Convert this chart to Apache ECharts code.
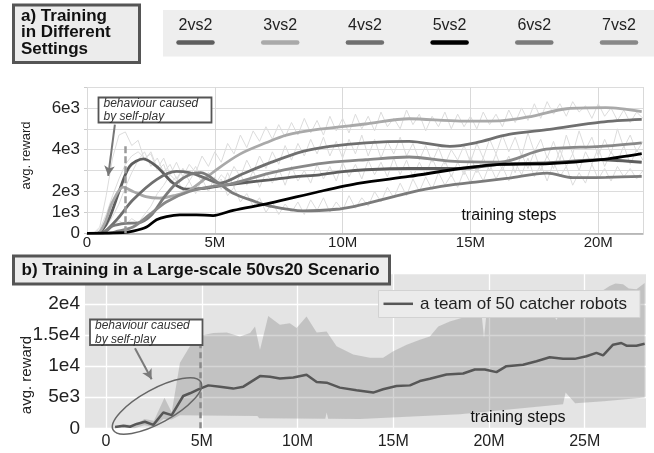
<!DOCTYPE html>
<html><head><meta charset="utf-8">
<script src="https://cdn.jsdelivr.net/npm/echarts@6/dist/echarts.min.js"></script>
<style>html,body{margin:0;padding:0;background:#fff}#c{width:654px;height:453px}</style>
</head><body><div id="c"></div>
<script>
const FONT = '"Liberation Sans", Arial, sans-serif';

// ---- top panel (a) ----
const legendNames = ['2vs2','3vs2','4vs2','5vs2','6vs2','7vs2'];
const lineColors = ['#5e5e5e','#a9a9a9','#6f6f6f','#000000','#7b7b7b','#888888'];
const topXTicks = [0,5,10,15,20];
const topXLabels = ['0','5M','10M','15M','20M'];
const topYTicks = [0,1000,2000,4000,6000];
const topYLabels = ['0','1e3','2e3','4e3','6e3'];

const s2vs2 = [[0,0],[0.4,0],[0.6,150],[0.9,800],[1.28,2080],[1.67,3200],[2.2,3560],[2.72,3200],[3.37,2400],[3.89,2110],[4.6,2150],[5.2,2270],[6.2,2430],[7.15,2560],[8.1,2700],[9.1,2800],[10.0,2950],[10.9,3040],[12.6,3100],[14.6,3100],[16.15,3300],[18.1,3380],[20.1,3520],[21.7,3400]];
const s3vs2 = [[0,0],[0.4,0],[0.7,500],[1.0,1500],[1.41,2210],[1.8,2000],[2.3,1750],[2.84,1680],[3.4,1800],[4.0,2050],[5.07,3050],[6.0,3800],[7.0,4330],[7.8,4700],[9.1,4980],[10.9,5230],[12.6,5480],[14.6,5370],[16.15,5380],[17.45,5610],[18.76,5960],[20.3,6010],[21.7,5820]];
const s4vs2 = [[0,0],[0.5,0],[0.7,80],[1.2,700],[1.8,1600],[2.72,2570],[3.5,2960],[4.0,2900],[4.5,2700],[5.2,2400],[6.1,2850],[7.15,3370],[8.45,3920],[9.5,4160],[10.9,4330],[12.6,4400],[14.2,4160],[15.2,4330],[16.5,4730],[18.1,4970],[20.1,5320],[21.7,5450]];
const s5vs2 = [[0,0],[1.41,30],[1.8,100],[2.33,300],[2.72,650],[3.11,800],[3.63,880],[4.28,880],[4.93,850],[5.72,1100],[7.15,1440],[9.1,2000],[10.67,2400],[12.6,2720],[14.6,3100],[16.15,3300],[18.1,3330],[20.1,3520],[21.7,3810]];
const s6vs2 = [[0,0],[0.6,0],[1.0,350],[1.5,480],[2.0,500],[2.5,850],[3.0,1700],[3.5,2400],[4.0,2800],[4.45,2900],[5.2,2350],[5.72,1920],[6.5,1550],[7.15,1300],[8.45,1070],[9.76,1150],[10.5,1300],[11.0,1440],[12.0,1750],[13.0,2050],[14.2,2300],[15.2,2450],[16.5,2640],[18.0,2880],[19.0,2660],[20.3,2680],[21.7,2720]];
const s7vs2 = [[0,0],[0.8,0],[1.2,100],[1.8,300],[2.46,900],[3.1,1500],[4.0,2000],[4.93,2250],[5.6,2350],[7.15,2880],[8.45,3200],[9.5,3390],[10.9,3520],[12.6,3650],[14.2,3450],[16.15,3400],[17.85,4000],[20.1,4160],[21.7,4330]];

const rawSteps = [0,0.25,0.5,0.75,1,1.25,1.5,1.75,2,2.25,2.5,2.75,3,3.25,3.5,3.75,4,4.25,4.5,4.75,5,5.25,5.5,5.75,6,6.25,6.5,6.75,7,7.25,7.5,7.75,8,8.25,8.5,8.75,9,9.25,9.5,9.75,10,10.25,10.5,10.75,11,11.25,11.5,11.75,12,12.25,12.5,12.75,13,13.25,13.5,13.75,14,14.25,14.5,14.75,15,15.25,15.5,15.75,16,16.25,16.5,16.75,17,17.25,17.5,17.75,18,18.25,18.5,18.75,19,19.25,19.5,19.75,20,20.25,20.5,20.75,21,21.25,21.5,21.75];
const raw3vs2 = [0,0,300,1800,3600,4700,4850,4200, 4450,3500,3900,3100,3600,2800,3400,2700, 3300,2900,3700,3200,3900,3400,4300,3800, 4700,4100,4900,4400,5100,4500,5200,4600, 5300,4700,5500,4800,5400,4700,5600,4900, 5500,4800,5700,5000,5600,4900,5800,5100, 5500,5000,5900,5200,5700,4900,5600,5100, 5800,5000,5700,5100,5600,5000,5800,5200, 5700,5100,5900,5300,6000,5400,6200,5500, 6300,5700,6200,5600,6300,5800,6100,5500, 6200,5600,6000,5400,5900,5300,5800,5500];
const raw2vs2 = [0,0,200,900,1800,2600,3300,3700, 3900,3600,3800,3000,3300,2400,2700,2000, 2500,1900,2600,2000,2700,2100,2900,2200, 2800,2300,3000,2200,2900,2400,3100,2300, 3200,2500,3000,2400,3300,2600,3200,2500, 3400,2700,3300,2600,3500,2800,3400,2700, 3600,2800,3500,2700,3400,2800,3600,2900, 3500,2700,3400,2800,3700,2900,3600,3000, 3800,3000,3700,2900,3800,3100,3900,3000, 3700,3100,4000,3200,3800,3000,3900,3300, 4100,3200,3900,3400,4200,3300,4000,3500];
const raw4vs2 = [0,0,100,300,800,1400,2200,2900, 3500,3900,3200,3600,2900,3300,2600,3100, 2500,3000,2400,2900,2300,2800,2500,3200, 2700,3500,2900,3700,3100,3900,3300,4200, 3500,4300,3700,4500,3800,4600,3700,4400, 3600,4500,3800,4700,3700,4500,3600,4400, 3800,4600,3700,4300,3500,4200,3400,4100, 3300,4000,3500,4200,3400,4300,3600,4500, 3800,4700,3900,4600,3700,4800,3900,4500, 3600,4400,3500,4700,3800,4900,4000,4600, 3700,4500,3800,5000,4100,4700,3900,4400];
const raw6vs2 = [0,0,0,100,400,600,400,700, 500,900,1300,1900,2300,2800,2500,3100, 2700,3200,2600,2900,2200,2600,1800,2200, 1500,1900,1300,1700,1000,1500,900,1400, 1000,1500,900,1600,1100,1700,1000,1500, 1100,1800,1200,1700,1300,2000,1500,2200, 1700,2400,1800,2600,2000,2700,2100,2900, 2300,2800,2200,3000,2400,3100,2500,3300, 2600,3200,2500,3400,2800,3600,2700,3300, 2500,3400,2700,3200,2300,2900,2400,3300, 2600,3100,2500,3200,2700,3100,2600,3000];

// annotation anchors (data units)
const topDashX = 1.48, topDashTop = 4250;
const topArrow = [[1.09,5200],[0.83,2750]];

// ---- bottom panel (b) ----
const bottomXTicks = [0,5,10,15,20,25];
const bottomXLabels = ['0','5M','10M','15M','20M','25M'];
const bottomYTicks = [0,5000,10000,15000,20000];
const bottomYLabels = ['0','5e3','1e4','1.5e4','2e4'];
const meanReward = [[0.47,200],[0.9,400],[1.25,250],[1.6,700],[2.03,1050],[2.47,550],[2.99,2550],[3.43,2120],[4.03,5200],[4.38,5640],[4.82,6280],[5.34,6910],[5.95,6700],[6.64,6390],[7.17,6700],[8.04,8400],[8.56,8300],[9.08,8030],[9.78,8190],[10.47,8620],[11.0,7440],[11.52,7350],[12.21,6550],[13.08,6120],[13.95,5750],[14.47,6280],[15.17,6800],[15.87,6910],[16.39,7600],[16.91,7980],[17.78,8670],[18.65,8830],[19.26,9470],[19.78,9470],[20.39,9040],[20.91,10000],[21.78,10220],[22.48,10800],[23.17,11430],[23.87,11180],[24.48,11180],[25.09,11600],[25.61,12140],[25.96,11750],[26.48,13460],[26.91,13730],[27.18,13300],[27.7,13300],[28.13,13620]];
const bandUpper = [[0.3,0],[0.6,300],[1.0,600],[1.5,500],[2.0,1500],[2.5,1200],[3.05,4900],[3.43,2600],[3.86,10540],[4.38,13200],[4.9,14900],[5.6,15330],[6.3,15430],[6.99,14790],[7.52,15330],[7.78,16390],[8.04,12660],[8.47,18090],[9.08,16660],[9.6,16930],[9.95,16130],[10.47,17980],[11.0,15430],[11.52,15590],[12.04,13190],[12.91,11870],[13.78,11340],[14.47,11340],[15.0,12390],[15.7,13460],[16.39,14260],[16.91,14790],[17.35,16390],[17.95,17180],[18.83,17980],[19.61,18520],[19.74,14530],[19.87,18520],[20.74,19580],[21.6,20120],[22.48,20650],[23.17,19580],[23.52,17450],[23.87,19320],[24.57,20650],[25.43,21720],[26.0,22300],[26.3,22900],[26.6,23300],[27.0,23200],[27.3,22500],[27.7,22400],[28.13,23400]];
const bandLower = [[0.3,0],[1.0,100],[1.5,0],[2.0,500],[2.5,200],[3.0,1500],[3.43,1400],[3.86,2100],[5.0,2050],[7.9,2000],[8.0,1600],[11.45,1550],[11.52,2550],[11.6,1550],[13.26,1480],[18.48,2280],[23.87,3880],[24.0,5750],[24.5,4050],[26.0,4350],[28.13,4950]];
const bottomDashX = 4.93, bottomDashTop = 13500;
const bottomArrow = [[1.51,12880],[2.38,7890]];

function pick(ticks, labels){ return v => { const i = ticks.indexOf(Math.round(v*1000)/1000); return i < 0 ? '' : labels[i]; }; }

const chart = echarts.init(document.getElementById('c'), null, {renderer:'canvas'});

const series = [];
// raw noisy curves
[raw2vs2, raw3vs2, raw4vs2, raw6vs2].forEach(vals => {
  series.push({type:'line', xAxisIndex:0, yAxisIndex:0, silent:true, showSymbol:false, z:2,
    data: rawSteps.map((x,i)=>[x, vals[i]]),
    lineStyle:{color:'#dcdcdc', width:1}});
});
const smooth = [s2vs2, s3vs2, s4vs2, s6vs2, s7vs2, s5vs2];
const smoothIdx = [0,1,2,4,5,3];
smooth.forEach((d,k) => {
  const i = smoothIdx[k];
  series.push({name:legendNames[i], type:'line', xAxisIndex:0, yAxisIndex:0, silent:true, showSymbol:false,
    smooth:0.3, z:3+k, data:d,
    lineStyle:{color:lineColors[i], width:2.8}});
});
// top annotations
series.push({type:'line', xAxisIndex:0, yAxisIndex:0, data:[], silent:true,
  markLine:{silent:true, symbol:['none','none'], label:{show:false}, z:20,
    lineStyle:{color:'#9a9a9a', width:2.5, type:[7,3]},
    data:[[{coord:[topDashX,0]},{coord:[topDashX,topDashTop]}]]}});
series.push({type:'line', xAxisIndex:0, yAxisIndex:0, data:[], silent:true,
  markLine:{silent:true, symbol:['none','arrow'], symbolSize:[8,10], label:{show:false}, z:20,
    lineStyle:{color:'#777', width:2, type:'solid'},
    data:[[{coord:topArrow[0]},{coord:topArrow[1]}]]}});

// bottom: vertical grid lines
series.push({type:'line', xAxisIndex:1, yAxisIndex:1, data:[], silent:true, z:1,
  markLine:{silent:true, symbol:['none','none'], label:{show:false}, z:1,
    lineStyle:{color:'#ffffff', width:1.3, type:'solid'},
    data: bottomXTicks.map(v=>({xAxis:v}))}});
// ribbon
series.push({type:'custom', xAxisIndex:1, yAxisIndex:1, silent:true, z:2, data:[[0,0]],
  renderItem:(params, api) => {
    const pts = bandUpper.map(p=>api.coord(p)).concat(bandLower.slice().reverse().map(p=>api.coord(p)));
    return {type:'polygon', shape:{points:pts}, style:{fill:'rgba(125,125,125,0.32)'}};
  }});
series.push({type:'line', xAxisIndex:1, yAxisIndex:1, silent:true, showSymbol:false, z:3,
  data:meanReward, lineStyle:{color:'#575757', width:2.5}});
series.push({type:'line', xAxisIndex:1, yAxisIndex:1, data:[], silent:true,
  markLine:{silent:true, symbol:['none','none'], label:{show:false}, z:20,
    lineStyle:{color:'#8a8a8a', width:2.5, type:[6,4]},
    data:[[{coord:[bottomDashX,0]},{coord:[bottomDashX,bottomDashTop]}]]}});
series.push({type:'line', xAxisIndex:1, yAxisIndex:1, data:[], silent:true,
  markLine:{silent:true, symbol:['none','arrow'], symbolSize:[8,10], label:{show:false}, z:20,
    lineStyle:{color:'#7a7a7a', width:2, type:'solid'},
    data:[[{coord:bottomArrow[0]},{coord:bottomArrow[1]}]]}});

// graphics
const G = [];
G.push({type:'rect', shape:{x:13.5,y:5,width:126,height:57.5}, style:{fill:'#ececec', stroke:'#555', lineWidth:3}, z:50});
G.push({type:'text', x:21, y:7.5, z:51, style:{text:'a) Training\nin Different\nSettings', font:'bold 17px '+FONT, fill:'#111', lineHeight:16.8, textVerticalAlign:'top'}});
G.push({type:'rect', shape:{x:163,y:10,width:491,height:46.5}, style:{fill:'#eeeeee'}, z:50});
legendNames.forEach((n,i) => {
  const cx = 195.5 + i*84.7;
  G.push({type:'text', x:cx, y:26, z:51, style:{text:n, font:'16px '+FONT, fill:'#222', textAlign:'center', textVerticalAlign:'middle'}});
  G.push({type:'line', shape:{x1:cx-17, y1:42.5, x2:cx+17, y2:42.5}, z:51, style:{stroke:lineColors[i], lineWidth:4.5, lineCap:'round'}});
});
G.push({type:'rect', shape:{x:98.5,y:97.5,width:113,height:25}, style:{fill:'#fff', stroke:'#555', lineWidth:1.8}, z:50});
G.push({type:'text', x:103.5, y:110, z:51, style:{text:'behaviour caused\nby self-play', font:'italic 12px '+FONT, fill:'#333', lineHeight:13.4, textVerticalAlign:'middle'}});
G.push({type:'text', x:509, y:216, z:51, style:{text:'training steps', font:'16px '+FONT, fill:'#111', textAlign:'center', textVerticalAlign:'middle'}});
G.push({type:'text', x:26, y:155.5, rotation:Math.PI/2, z:51, style:{text:'avg. reward', font:'13px '+FONT, fill:'#222', textAlign:'center', textVerticalAlign:'middle'}});

G.push({type:'rect', shape:{x:13.5,y:256,width:376,height:28}, style:{fill:'#ececec', stroke:'#555', lineWidth:3}, z:50});
G.push({type:'text', x:21.5, y:270, z:51, style:{text:'b) Training in a Large-scale 50vs20 Scenario', font:'bold 17px '+FONT, fill:'#111', textVerticalAlign:'middle'}});
G.push({type:'rect', shape:{x:378.5,y:290.5,width:261.5,height:27}, style:{fill:'#ebebeb', stroke:'#d2d2d2', lineWidth:1}, z:50});
G.push({type:'line', shape:{x1:383.5,y1:303.8,x2:413,y2:303.8}, style:{stroke:'#575757', lineWidth:2.5}, z:51});
G.push({type:'text', x:420, y:304, z:51, style:{text:'a team of 50 catcher robots', font:'17px '+FONT, fill:'#222', textVerticalAlign:'middle'}});
G.push({type:'rect', shape:{x:90,y:319.5,width:112.5,height:25.5}, style:{fill:'#fff', stroke:'#555', lineWidth:1.8}, z:50});
G.push({type:'text', x:95, y:332.5, z:51, style:{text:'behaviour caused\nby self-play', font:'italic 12px '+FONT, fill:'#333', lineHeight:13.4, textVerticalAlign:'middle'}});
G.push({type:'ellipse', x:157, y:406, rotation:0.5, shape:{cx:0, cy:0, rx:50, ry:17}, style:{fill:null, stroke:'#666', lineWidth:1.5}, z:49});
G.push({type:'text', x:518, y:418, z:51, style:{text:'training steps', font:'16px '+FONT, fill:'#111', textAlign:'center', textVerticalAlign:'middle'}});
G.push({type:'text', x:26.5, y:375, rotation:Math.PI/2, z:51, style:{text:'avg. reward', font:'15px '+FONT, fill:'#222', textAlign:'center', textVerticalAlign:'middle'}});

chart.setOption({
  animation:false,
  backgroundColor:'#ffffff',
  grid:[
    {left:87, top:87, width:556, height:146.3, show:false},
    {left:85, top:273, width:561, height:155.3, show:true, backgroundColor:'#e4e4e4', borderWidth:0}
  ],
  xAxis:[
    {type:'value', gridIndex:0, min:0, max:21.75, interval:5,
      axisLine:{show:true, lineStyle:{color:'#aaaaaa', width:1.5}}, axisTick:{show:false},
      axisLabel:{formatter:pick(topXTicks, topXLabels), fontFamily:FONT, fontSize:15, color:'#222', margin:2, showMaxLabel:false},
      splitLine:{show:true, lineStyle:{color:'#d9d9d9', width:1}}},
    {type:'value', gridIndex:1, min:-1.1, max:28.2,
      axisLine:{show:false}, axisTick:{show:false, customValues:bottomXTicks},
      axisLabel:{customValues:bottomXTicks, formatter:pick(bottomXTicks, bottomXLabels), fontFamily:FONT, fontSize:16, color:'#222', margin:5},
      splitLine:{show:false}}
  ],
  yAxis:[
    {type:'value', gridIndex:0, min:0, max:7000, interval:1000,
      axisLine:{show:false}, axisTick:{show:true, length:3, lineStyle:{color:'#cccccc'}},
      axisLabel:{formatter:pick(topYTicks, topYLabels), fontFamily:FONT, fontSize:17, color:'#222', margin:7},
      splitLine:{show:true, lineStyle:{color:'#dcdcdc', width:1}}},
    {type:'value', gridIndex:1, min:0, max:25000, interval:5000,
      axisLine:{show:false}, axisTick:{show:false},
      axisLabel:{formatter:pick(bottomYTicks, bottomYLabels), fontFamily:FONT, fontSize:19, color:'#222', margin:5},
      splitLine:{show:true, lineStyle:{color:'#ffffff', width:1.3}}}
  ],
  series: series,
  graphic: G
});
</script>
</body></html>
